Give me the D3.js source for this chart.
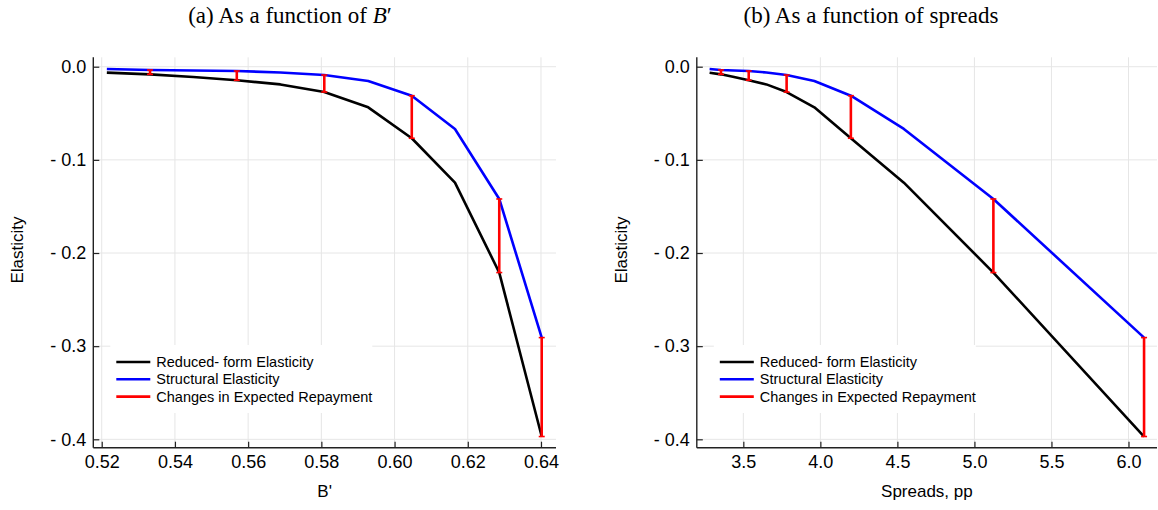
<!DOCTYPE html>
<html>
<head>
<meta charset="utf-8">
<script src="https://cdn.jsdelivr.net/npm/d3@7"></script>
<style>
  body { margin: 0; background: #fff; }
  svg { display: block; font-family: "Liberation Sans", Arial, sans-serif; }
</style>
</head>
<body>
<div id="chart"></div>
<script>
// values
const bPrime = [0.5214, 0.5332, 0.5450, 0.5569, 0.5688, 0.5808, 0.5928, 0.6047, 0.6165, 0.6286, 0.6402];
const spreads = [3.281, 3.355, 3.44, 3.535, 3.65, 3.781, 3.961, 4.198, 4.542, 5.123, 6.101];
const reducedForm = [-0.0064, -0.0082, -0.011, -0.0146, -0.019, -0.0272, -0.0436, -0.0768, -0.1245, -0.221, -0.397];
const structural = [-0.0025, -0.0035, -0.004, -0.0046, -0.0062, -0.0089, -0.0153, -0.0311, -0.0668, -0.142, -0.2908];
const barIndex = [1, 3, 5, 7, 9, 10];

const yTicks = [0, -0.1, -0.2, -0.3, -0.4];
const bTicks = [0.52, 0.54, 0.56, 0.58, 0.60, 0.62, 0.64];
const spreadTicks = [3.5, 4.0, 4.5, 5.0, 5.5, 6.0];

const legendLabels = ['Reduced- form Elasticity', 'Structural Elasticity', 'Changes in Expected Repayment'];

const COLORS = { reduced: '#000000', structural: '#0000ff', repay: '#ff0000', grid: '#e6e6e6', axis: '#222' };

const W = 1158, H = 510;
const TOP = 57.3, BOTTOM = 447.7;

const svg = d3.select('#chart').append('svg')
	.attr('width', W)
	.attr('height', H);

const y = d3.scaleLinear()
	.domain([0.0101, -0.409])
	.range([TOP, BOTTOM]);

const panels = [
	{
		xs: bPrime, ticks: bTicks, domain: [0.5177, 0.6441], range: [93.3, 556],
		fmt: d => d.toFixed(2), title: 'a', xLabel: "B'", titleX: 290, yLabelX: 17.5
	},
	{
		xs: spreads, ticks: spreadTicks, domain: [3.198, 6.185], range: [696.8, 1157],
		fmt: d => d.toFixed(1), title: 'b', xLabel: 'Spreads, pp', titleX: 871, yLabelX: 621.5
	}
];

panels.forEach(p => {
	const x = d3.scaleLinear().domain(p.domain).range(p.range);
	const g = svg.append('g');

	// grid
	g.append('g').selectAll('line.vgrid')
		.data(p.ticks)
		.join('line')
		.attr('x1', d => x(d)).attr('x2', d => x(d))
		.attr('y1', TOP).attr('y2', BOTTOM)
		.attr('stroke', COLORS.grid).attr('stroke-width', 1);

	g.append('g').selectAll('line.hgrid')
		.data(yTicks)
		.join('line')
		.attr('x1', p.range[0]).attr('x2', p.range[1])
		.attr('y1', d => y(d)).attr('y2', d => y(d))
		.attr('stroke', COLORS.grid).attr('stroke-width', 1);

	// axes, ticks pointing inward
	const gx = g.append('g')
		.attr('transform', `translate(0,${BOTTOM})`)
		.call(d3.axisBottom(x).tickValues(p.ticks).tickFormat(p.fmt)
			.tickSizeInner(-6).tickSizeOuter(0).tickPadding(8));

	const gy = g.append('g')
		.attr('transform', `translate(${p.range[0]},0)`)
		.call(d3.axisLeft(y).tickValues(yTicks)
			.tickFormat(d => d === 0 ? '0.0' : '- ' + Math.abs(d).toFixed(1))
			.tickSizeInner(-6).tickSizeOuter(0).tickPadding(7));

	[gx, gy].forEach(a => {
		a.selectAll('text').attr('font-size', 18).attr('font-family', 'Liberation Sans, Arial, sans-serif').attr('fill', '#000');
		a.selectAll('line').attr('stroke', COLORS.axis).attr('stroke-width', 1.2);
		a.select('.domain').attr('stroke', COLORS.axis).attr('stroke-width', 1.4);
	});
	// extend y spine to top of plot area
	gy.select('.domain').attr('d', `M0,${TOP}V${BOTTOM}`);
	gx.select('.domain').attr('d', `M${p.range[0]},0H${p.range[1]}`);

	// lines
	const pts = (vals) => p.xs.map((v, i) => [v, vals[i]]);
	const line = d3.line().x(d => x(d[0])).y(d => y(d[1]));

	g.append('path')
		.datum(pts(reducedForm))
		.attr('d', line)
		.attr('fill', 'none')
		.attr('stroke', COLORS.reduced)
		.attr('stroke-width', 2.6)
		.attr('stroke-linejoin', 'round');

	g.append('path')
		.datum(pts(structural))
		.attr('d', line)
		.attr('fill', 'none')
		.attr('stroke', COLORS.structural)
		.attr('stroke-width', 2.6)
		.attr('stroke-linejoin', 'round');

	// red bars with caps
	const bars = g.append('g').selectAll('g')
		.data(barIndex)
		.join('g')
		.attr('stroke', COLORS.repay)
		.attr('stroke-width', 2.6);

	bars.append('line')
		.attr('x1', i => x(p.xs[i])).attr('x2', i => x(p.xs[i]))
		.attr('y1', i => y(structural[i])).attr('y2', i => y(reducedForm[i]));

	[structural, reducedForm].forEach(vals => {
		bars.append('line')
			.attr('stroke-width', 1.6)
			.attr('x1', i => x(p.xs[i]) - 3).attr('x2', i => x(p.xs[i]) + 3)
			.attr('y1', i => y(vals[i])).attr('y2', i => y(vals[i]));
	});

	// legend
	const lx = p.range[0] + 17;
	const legend = g.append('g').attr('transform', `translate(${lx},345)`);
	legend.append('rect')
		.attr('width', 262).attr('height', 68)
		.attr('fill', '#fff');
	const rows = legend.selectAll('g.row')
		.data(legendLabels)
		.join('g')
		.attr('transform', (d, i) => `translate(0,${17 + i * 17.3})`);
	rows.append('line')
		.attr('x1', 6).attr('x2', 40)
		.attr('stroke', (d, i) => [COLORS.reduced, COLORS.structural, COLORS.repay][i])
		.attr('stroke-width', 2.6);
	rows.append('text')
		.attr('x', 46).attr('dy', '0.35em')
		.attr('font-size', 14.5)
		.text(d => d);

	// axis labels
	g.append('text')
		.attr('x', (p.range[0] + p.range[1]) / 2)
		.attr('y', 497)
		.attr('text-anchor', 'middle')
		.attr('font-size', 17)
		.text(p.xLabel);

	g.append('text')
		.attr('transform', `translate(${p.yLabelX},250) rotate(-90)`)
		.attr('text-anchor', 'middle')
		.attr('dy', '0.35em')
		.attr('font-size', 17)
		.text('Elasticity');

	// title
	const t = svg.append('text')
		.attr('x', p.titleX)
		.attr('y', 23)
		.attr('text-anchor', 'middle')
		.attr('font-family', 'Liberation Serif, Times New Roman, serif')
		.attr('font-size', 23);
	if (p.title === 'a') {
		t.append('tspan').text('(a) As a function of ');
		t.append('tspan').attr('font-style', 'italic').text('B');
		t.append('tspan').text('\u2032');
	} else {
		t.text('(b) As a function of spreads');
	}
});
</script>
</body>
</html>
